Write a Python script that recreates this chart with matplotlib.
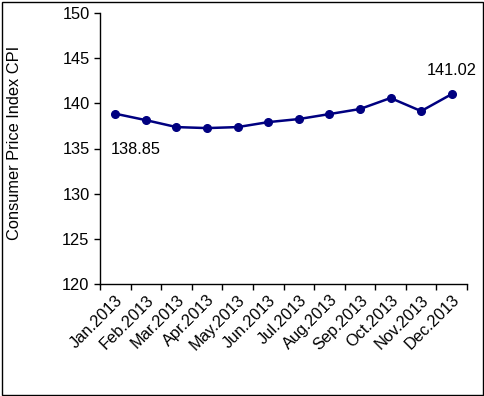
import matplotlib.pyplot as plt
from matplotlib.patches import Rectangle
import numpy as np

plt.rcParams['font.family'] = ['Liberation Sans', 'DejaVu Sans']

months = ['Jan.2013', 'Feb.2013', 'Mar.2013', 'Apr.2013', 'May.2013', 'Jun.2013',
          'Jul.2013', 'Aug.2013', 'Sep.2013', 'Oct.2013', 'Nov.2013', 'Dec.2013']
cpi = [138.85, 138.14, 137.37, 137.26, 137.37, 137.92,
       138.26, 138.81, 139.37, 140.59, 139.14, 141.02]

fs = 11.8

fig = plt.figure(figsize=(4.84, 3.96), dpi=100)
ax = fig.add_axes([100 / 484, 1 - 284 / 396, 367 / 484, 271 / 396])

x = np.arange(len(months))
color = '#000080'
ax.plot(x, cpi, color=color, linewidth=1.8, marker='o', markersize=5.5, zorder=3)

ax.set_xlim(-0.5, len(months) - 0.5)
ax.set_ylim(120, 150)
ax.set_yticks(np.arange(120, 151, 5))
ax.set_xticks(x)
ax.set_xticklabels(months, rotation=45, ha='right', rotation_mode='anchor', fontsize=fs)
ax.set_xticks(np.arange(-0.5, len(months)), minor=True)
ax.tick_params(axis='x', which='major', length=0, pad=6)
ax.tick_params(axis='x', which='minor', length=4, width=1, direction='out')
ax.tick_params(axis='y', length=4, width=1, direction='out', labelsize=fs)

for s in ['top', 'right']:
    ax.spines[s].set_visible(False)
for s in ['left', 'bottom']:
    ax.spines[s].set_linewidth(1)

ax.set_ylabel('Consumer Price Index CPI', fontsize=fs)
ax.yaxis.set_label_coords(-0.212, 0.52)

ax.annotate(f'{cpi[0]:.2f}', (x[0], cpi[0]), xytext=(-3, -26), textcoords='offset points',
            ha='left', va='center', fontsize=fs)
ax.annotate(f'{cpi[-1]:.2f}', (x[-1], cpi[-1]), xytext=(0, 17), textcoords='offset points',
            ha='center', va='center', fontsize=fs)

fig.patches.append(Rectangle((2 / 484, 1 / 396), 481 / 484, 393 / 396, transform=fig.transFigure,
                             fill=False, edgecolor='black', linewidth=1))

fig.savefig('out.png', dpi=100)
